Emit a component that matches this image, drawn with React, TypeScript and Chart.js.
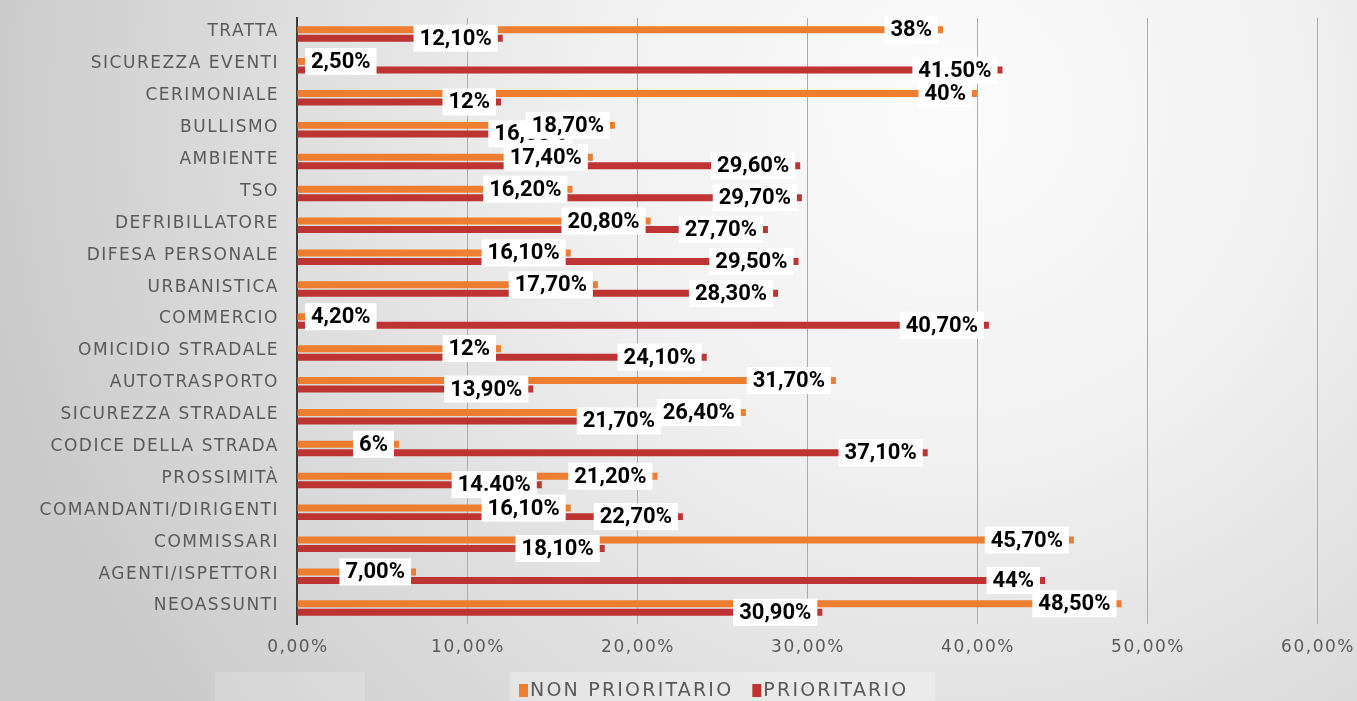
import React, { useEffect, useRef } from "react";
import { Chart, registerables } from "chart.js";

Chart.register(...registerables);

const categories = [
  "TRATTA",
  "SICUREZZA EVENTI",
  "CERIMONIALE",
  "BULLISMO",
  "AMBIENTE",
  "TSO",
  "DEFRIBILLATORE",
  "DIFESA PERSONALE",
  "URBANISTICA",
  "COMMERCIO",
  "OMICIDIO STRADALE",
  "AUTOTRASPORTO",
  "SICUREZZA STRADALE",
  "CODICE DELLA STRADA",
  "PROSSIMITÀ",
  "COMANDANTI/DIRIGENTI",
  "COMMISSARI",
  "AGENTI/ISPETTORI",
  "NEOASSUNTI",
];

const nonPrioritario = [38, 2.5, 40, 18.7, 17.4, 16.2, 20.8, 16.1, 17.7, 4.2, 12, 31.7, 26.4, 6, 21.2, 16.1, 45.7, 7.0, 48.5];
const prioritario = [12.1, 41.5, 12, 16.5, 29.6, 29.7, 27.7, 29.5, 28.3, 40.7, 24.1, 13.9, 21.7, 37.1, 14.4, 22.7, 18.1, 44, 30.9];

const nonPrioritarioLabels = ["38%", "2,50%", "40%", "18,70%", "17,40%", "16,20%", "20,80%", "16,10%", "17,70%", "4,20%", "12%", "31,70%", "26,40%", "6%", "21,20%", "16,10%", "45,70%", "7,00%", "48,50%"];
const prioritarioLabels = ["12,10%", "41.50%", "12%", "16,50%", "29,60%", "29,70%", "27,70%", "29,50%", "28,30%", "40,70%", "24,10%", "13,90%", "21,70%", "37,10%", "14.40%", "22,70%", "18,10%", "44%", "30,90%"];

const xTicks = [0, 10, 20, 30, 40, 50, 60];
const xTickLabels = ["0,00%", "10,00%", "20,00%", "30,00%", "40,00%", "50,00%", "60,00%"];

const seriesNames = ["NON PRIORITARIO", "PRIORITARIO"];
const seriesColors = ["#ED7D31", "#BE3433"];

const TEXT_GRAY = "#595959";

const bgPlugin = {
  id: "bgPlugin",
  beforeDraw(chart: any) {
    const { ctx, width, height } = chart;
    ctx.save();
    const g = ctx.createRadialGradient(950, 110, 0, 950, 110, 1000);
    g.addColorStop(0, "#fbfbfb");
    g.addColorStop(0.35, "#f1f1f1");
    g.addColorStop(1, "#c9c9c9");
    ctx.fillStyle = g;
    ctx.fillRect(0, 0, width, height);
    ctx.fillStyle = "rgba(255,255,255,0.18)";
    ctx.fillRect(215, 672, 150, 29);
    ctx.restore();
  },
};

const labelsPlugin = {
  id: "labelsPlugin",
  afterDatasetsDraw(chart: any) {
    const { ctx, chartArea } = chart;
    ctx.save();
    ctx.font = "bold 22px Roboto";
    ctx.textAlign = "center";
    ctx.textBaseline = "middle";
    const order = [1, 0];
    const texts = [nonPrioritarioLabels, prioritarioLabels];
    for (const di of order) {
      const meta = chart.getDatasetMeta(di);
      meta.data.forEach((bar: any, i: number) => {
        const t = texts[di][i];
        const w = ctx.measureText(t).width + 12;
        const h = 27;
        let right = bar.x - 5;
        let left = right - w;
        if (left < chartArea.left + 8) {
          left = chartArea.left + 8;
          right = left + w;
        }
        const top = bar.y - h / 2;
        ctx.fillStyle = "#ffffff";
        ctx.fillRect(left, top, w, h);
        ctx.fillStyle = "#000000";
        ctx.fillText(t, left + w / 2, bar.y + 1);
      });
    }
    ctx.restore();
  },
  afterDraw(chart: any) {
    const { ctx } = chart;
    const yScale = chart.scales.y;
    const xScale = chart.scales.x;
    ctx.save();
    ctx.letterSpacing = "1.5px";
    ctx.font = "17px 'DejaVu Sans'";
    ctx.fillStyle = TEXT_GRAY;
    ctx.textAlign = "right";
    ctx.textBaseline = "middle";
    categories.forEach((c, i) => {
      ctx.fillText(c, 279, yScale.getPixelForValue(i) - 2);
    });

    // x tick labels
    ctx.textAlign = "center";
    xTicks.forEach((v, i) => {
      ctx.fillText(xTickLabels[i], xScale.getPixelForValue(v) + 1, 648);
    });

    // legend
    ctx.fillStyle = "rgba(255,255,255,0.28)";
    ctx.fillRect(510, 672, 425, 29);
    ctx.font = "19px 'DejaVu Sans'";
    ctx.letterSpacing = "2.2px";
    ctx.textAlign = "left";
    let x = 519;
    const cy = 690;
    seriesNames.forEach((n, i) => {
      ctx.fillStyle = seriesColors[i];
      ctx.fillRect(x, cy - 6, 9, 13);
      ctx.fillStyle = TEXT_GRAY;
      ctx.fillText(n, x + 11, cy + 1);
      x += 11 + ctx.measureText(n).width + 19;
    });
    ctx.restore();
  },
};

export default function App() {
  const canvasRef = useRef<HTMLCanvasElement | null>(null);

  useEffect(() => {
    document.body.style.margin = "0";
    document.body.style.overflow = "hidden";
    const canvas = canvasRef.current;
    if (!canvas) return;
    const chart = new Chart(canvas, {
      type: "bar",
      data: {
        labels: categories,
        datasets: [
          {
            label: seriesNames[0],
            data: nonPrioritario,
            backgroundColor: seriesColors[0],
            barPercentage: 0.82,
            categoryPercentage: 0.534,
          },
          {
            label: seriesNames[1],
            data: prioritario,
            backgroundColor: seriesColors[1],
            barPercentage: 0.82,
            categoryPercentage: 0.534,
          },
        ],
      },
      options: {
        indexAxis: "y",
        responsive: true,
        maintainAspectRatio: false,
        animation: false,
        layout: { padding: { left: 297, right: 40, top: 18, bottom: 77 } },
        plugins: {
          legend: { display: false },
          tooltip: { enabled: false },
        },
        scales: {
          x: {
            min: xTicks[0],
            max: xTicks[xTicks.length - 1],
            ticks: { display: false, stepSize: 10 },
            grid: { color: "#ababab", lineWidth: 1, drawTicks: false },
            border: { display: false },
          },
          y: {
            ticks: { display: false },
            grid: { display: false, drawTicks: false },
            border: { display: true, color: "#3c3c3c", width: 2 },
          },
        },
      },
      plugins: [bgPlugin, labelsPlugin],
    });
    return () => chart.destroy();
  }, []);

  return (
    <div style={{ width: "1357px", height: "701px", position: "relative" }}>
      <canvas ref={canvasRef} />
    </div>
  );
}
